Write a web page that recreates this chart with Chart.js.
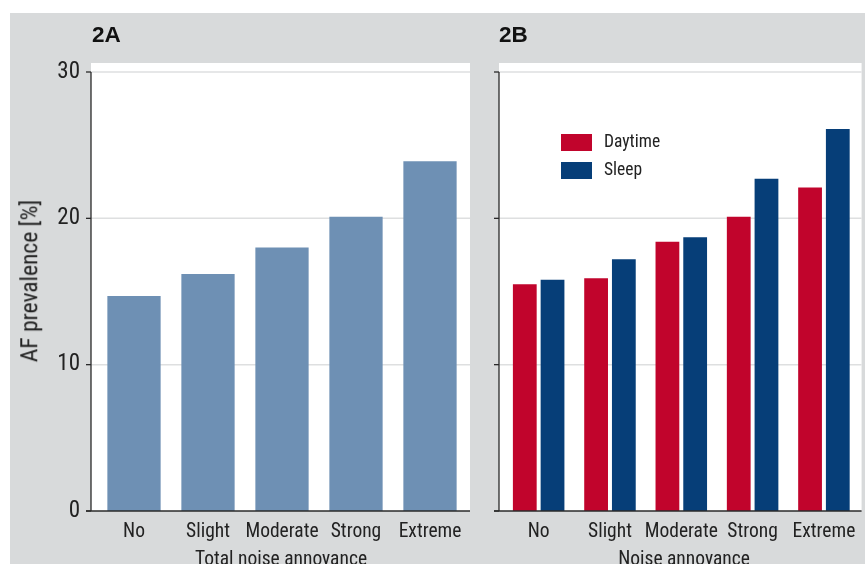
<!DOCTYPE html>
<html>
<head>
<meta charset="utf-8">
<script src="https://cdn.jsdelivr.net/npm/chart.js@4.4.1/dist/chart.umd.min.js"></script>
<style>
  html, body { margin: 0; padding: 0; background: #fff; }
  body { width: 865px; height: 564px; position: relative; overflow: hidden;
         font-family: 'Roboto Condensed', 'Liberation Sans', sans-serif; color: #222; }
  #bg { position: absolute; left: 10px; top: 13px; right: 0; bottom: 0; background: #d8dadb; }
  canvas { position: absolute; top: 0; }
  #cA { left: 0; }
  #cB { left: 480px; }
  .txt { position: absolute; line-height: 1; white-space: nowrap; }
  .panel { font-family: 'Liberation Sans', Arial, sans-serif; font-weight: bold; font-size: 22.5px; color: #111; top: 23.5px; }
  .xtitle { font-size: 19.5px; top: 548.5px; transform: translateX(-50%); }
  .ytitle { font-size: 23.5px; left: 29.7px; top: 281px; transform: translate(-50%, -50%) rotate(-90deg); }
  .lbox { position: absolute; width: 31px; height: 17px; }
  .ltxt { font-size: 17.5px; left: 604px; }
</style>
</head>
<body>
<div id="bg"></div>
<canvas id="cA" width="480" height="564"></canvas>
<canvas id="cB" width="385" height="564"></canvas>
<div class="txt panel" style="left:92px">2A</div>
<div class="txt panel" style="left:499px">2B</div>
<div class="txt ytitle">AF prevalence [%]</div>
<div class="txt xtitle" style="left:281px">Total noise annoyance</div>
<div class="txt xtitle" style="left:684px">Noise annoyance</div>
<div id="legend"></div>
<script>
// Noise annoyance levels
const categories = ['No', 'Slight', 'Moderate', 'Strong', 'Extreme'];
// AF prevalence (%) by total noise annoyance
const totalPrevalence = [14.7, 16.2, 18.0, 20.1, 23.9];
// AF prevalence (%) by daytime and sleep noise annoyance
const daytimePrevalence = [15.5, 15.9, 18.4, 20.1, 22.1];
const sleepPrevalence = [15.8, 17.2, 18.7, 22.7, 26.1];
const seriesNames = ['Daytime', 'Sleep'];
const yTickValues = [0, 10, 20, 30];

const FONT = "'Roboto Condensed', 'Liberation Sans', sans-serif";
const TEXT = '#222';
const colors = { total: '#6e90b4', daytime: '#c1042c', sleep: '#063e78' };

// White plotting panel, grid lines and axis drawn around the chart area
const panelFrame = {
  id: 'panelFrame',
  beforeDatasetsDraw(chart, args, opts) {
    const { ctx, chartArea: a, scales: { y } } = chart;
    const ax = a.left - opts.gap;
    const right = Math.min(a.right + opts.right, chart.width);
    ctx.save();
    ctx.fillStyle = '#ffffff';
    ctx.fillRect(ax, a.top - opts.top, right - ax, a.bottom - a.top + opts.top);
    ctx.strokeStyle = '#dedfe0';
    ctx.lineWidth = 1.5;
    yTickValues.forEach(v => {
      if (v === 0) return;
      const py = y.getPixelForValue(v);
      ctx.beginPath(); ctx.moveTo(ax, py); ctx.lineTo(right, py); ctx.stroke();
    });
    ctx.restore();
  },
  afterDatasetsDraw(chart, args, opts) {
    const { ctx, chartArea: a, scales: { y } } = chart;
    const ax = a.left - opts.gap;
    const right = Math.min(a.right + opts.right, chart.width);
    const top = y.getPixelForValue(yTickValues[yTickValues.length - 1]);
    const base = y.getPixelForValue(0);
    ctx.save();
    ctx.strokeStyle = '#2a2a2a';
    ctx.lineWidth = 1.3;
    ctx.beginPath(); ctx.moveTo(ax, top); ctx.lineTo(ax, base); ctx.stroke();
    yTickValues.forEach(v => {
      const py = y.getPixelForValue(v);
      ctx.beginPath(); ctx.moveTo(ax - 5, py); ctx.lineTo(ax, py); ctx.stroke();
    });
    ctx.beginPath(); ctx.moveTo(ax - 5, base); ctx.lineTo(right, base); ctx.stroke();
    ctx.restore();
  }
};

function baseOptions(yWidth, showYTicks, padRight, frame) {
  return {
    responsive: false,
    animation: false,
    devicePixelRatio: 1,
    layout: { padding: { left: 0, right: padRight, top: 72, bottom: 0 } },
    plugins: { legend: { display: false }, tooltip: { enabled: false }, panelFrame: frame },
    scales: {
      x: {
        grid: { display: false, drawTicks: false },
        border: { display: false },
        ticks: { font: { family: FONT, size: 19.5 }, color: TEXT, padding: 9.5, maxRotation: 0, autoSkip: false },
        afterFit(s) { s.height = 53; }
      },
      y: {
        min: 0, max: 30,
        grid: { display: false, drawTicks: false },
        border: { display: false },
        afterBuildTicks(s) { s.ticks = yTickValues.map(v => ({ value: v })); },
        ticks: { display: showYTicks, font: { family: FONT, size: 23 }, color: TEXT, padding: 17 },
        afterFit(s) { s.width = yWidth; }
      }
    }
  };
}

new Chart(document.getElementById('cA'), {
  type: 'bar',
  data: {
    labels: categories,
    datasets: [{ label: 'Total', data: totalPrevalence, backgroundColor: colors.total,
                 barPercentage: 0.72, categoryPercentage: 1 }]
  },
  options: baseOptions(97, true, 13, { gap: 6, right: 3, top: 9 }),
  plugins: [panelFrame]
});

new Chart(document.getElementById('cB'), {
  type: 'bar',
  data: {
    labels: categories,
    datasets: [
      { label: seriesNames[0], data: daytimePrevalence, backgroundColor: colors.daytime,
        barPercentage: 0.857, categoryPercentage: 0.778 },
      { label: seriesNames[1], data: sleepPrevalence, backgroundColor: colors.sleep,
        barPercentage: 0.857, categoryPercentage: 0.778 }
    ]
  },
  options: baseOptions(23, false, 2, { gap: 4, right: 2, top: 9 }),
  plugins: [panelFrame]
});

// Legend for the daytime / sleep panel
const legend = document.getElementById('legend');
[colors.daytime, colors.sleep].forEach((c, i) => {
  const box = document.createElement('div');
  box.className = 'lbox';
  box.style.left = '561px';
  box.style.top = (134 + i * 27.7) + 'px';
  box.style.background = c;
  legend.appendChild(box);
  const t = document.createElement('div');
  t.className = 'txt ltxt';
  t.style.top = (133 + i * 27.7) + 'px';
  t.textContent = seriesNames[i];
  legend.appendChild(t);
});
</script>
</body>
</html>
